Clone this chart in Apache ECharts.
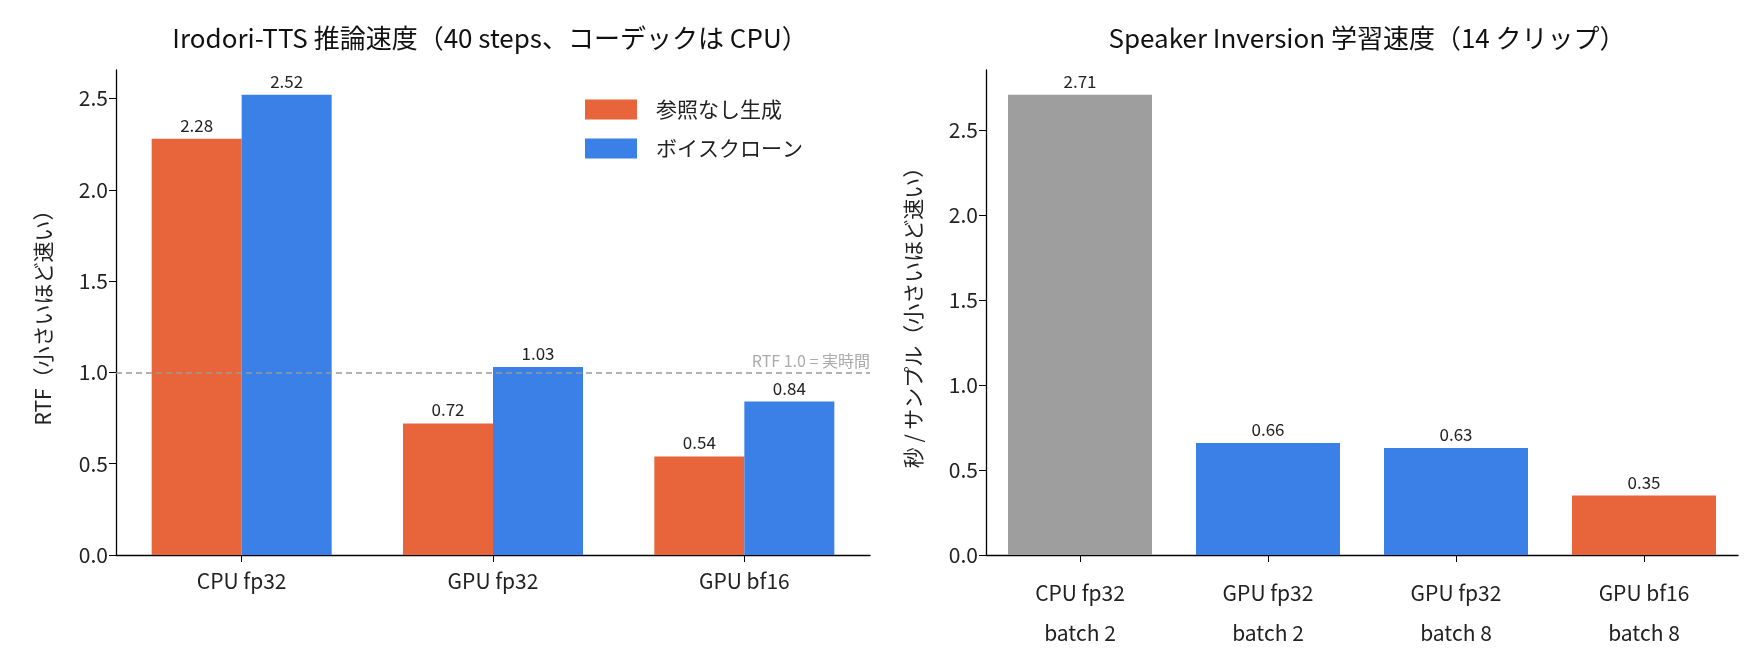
<!DOCTYPE html><html><head><meta charset="utf-8"><script src="https://cdn.jsdelivr.net/npm/echarts@6/dist/echarts.min.js"></script>
<style>html,body{margin:0;background:#fff}#c{width:1760px;height:672px}</style></head><body><div id="c"></div><script>
const cats1=['CPU fp32','GPU fp32','GPU bf16'];
const noRef=[2.28,0.72,0.54];
const clone=[2.52,1.03,0.84];
const cats2=['CPU fp32\nbatch 2','GPU fp32\nbatch 2','GPU fp32\nbatch 8','GPU bf16\nbatch 8'];
const inv=[2.71,0.66,0.63,0.35];
const invColors=['#9e9e9e','#3a80e6','#3a80e6','#e8643a'];
const F='"Noto Sans CJK JP","Noto Sans",sans-serif';
const ax={axisLine:{show:true,lineStyle:{color:'#000',width:1.3}},axisTick:{show:true,lineStyle:{color:'#000'},length:7},axisLabel:{color:'#222',fontSize:21,fontFamily:F},splitLine:{show:false}};
const lbl={show:true,position:'top',color:'#222',fontSize:17,fontFamily:F,formatter:p=>p.value.toFixed(2)};
const c=echarts.init(document.getElementById('c'));
c.setOption({animation:false,textStyle:{fontFamily:F},
title:[{text:'Irodori-TTS 推論速度（40 steps、コーデックは CPU）',left:485,top:20,textAlign:'center',textStyle:{fontSize:26,fontWeight:'normal',color:'#111',fontFamily:F}},
{text:'Speaker Inversion 学習速度（14 クリップ）',left:1362,top:20,textAlign:'center',textStyle:{fontSize:26,fontWeight:'normal',color:'#111',fontFamily:F}}],
legend:{left:580,top:94,orient:'vertical',itemWidth:52,itemHeight:20,itemGap:18,itemStyle:{borderRadius:0},icon:'rect',textStyle:{fontSize:21,color:'#222',fontFamily:F,padding:[0,0,0,14]},data:['参照なし生成','ボイスクローン']},
grid:[{left:116,width:754,top:70,height:485},{left:986,width:752,top:70,height:485}],
xAxis:[{type:'category',data:cats1,gridIndex:0,...ax,axisTick:{...ax.axisTick,alignWithLabel:true},axisLabel:{...ax.axisLabel,margin:16}},
{type:'category',data:cats2,gridIndex:1,...ax,axisTick:{...ax.axisTick,alignWithLabel:true},axisLabel:{...ax.axisLabel,margin:18,lineHeight:40}}],
yAxis:[{type:'value',gridIndex:0,min:0,max:2.656,interval:0.5,...ax,axisLabel:{...ax.axisLabel,showMaxLabel:false,formatter:v=>v.toFixed(1)},name:'RTF（小さいほど速い）',nameLocation:'middle',nameGap:62,nameRotate:90,nameTextStyle:{fontSize:21,color:'#222',fontFamily:F}},
{type:'value',gridIndex:1,min:0,max:2.856,interval:0.5,...ax,axisLabel:{...ax.axisLabel,showMaxLabel:false,formatter:v=>v.toFixed(1)},name:'秒 / サンプル（小さいほど速い）',nameLocation:'middle',nameGap:62,nameRotate:90,nameTextStyle:{fontSize:21,color:'#222',fontFamily:F}}],
series:[{name:'参照なし生成',type:'bar',xAxisIndex:0,yAxisIndex:0,data:noRef,barWidth:90,barGap:'0%',itemStyle:{color:'#e8643a'},label:lbl,
markLine:{silent:true,symbol:'none',data:[{yAxis:1.0}],lineStyle:{color:'#999',type:[6,4],width:1.5},label:{position:'insideEndTop',formatter:'RTF 1.0 = 実時間',color:'#aaa',fontSize:16,fontFamily:F,distance:[0,3]}}},
{name:'ボイスクローン',type:'bar',xAxisIndex:0,yAxisIndex:0,data:clone,barWidth:90,barGap:'0%',itemStyle:{color:'#3a80e6'},label:lbl},
{name:'inv',type:'bar',xAxisIndex:1,yAxisIndex:1,data:inv.map((v,i)=>({value:v,itemStyle:{color:invColors[i]}})),barWidth:144,label:lbl}]});
</script></body></html>
